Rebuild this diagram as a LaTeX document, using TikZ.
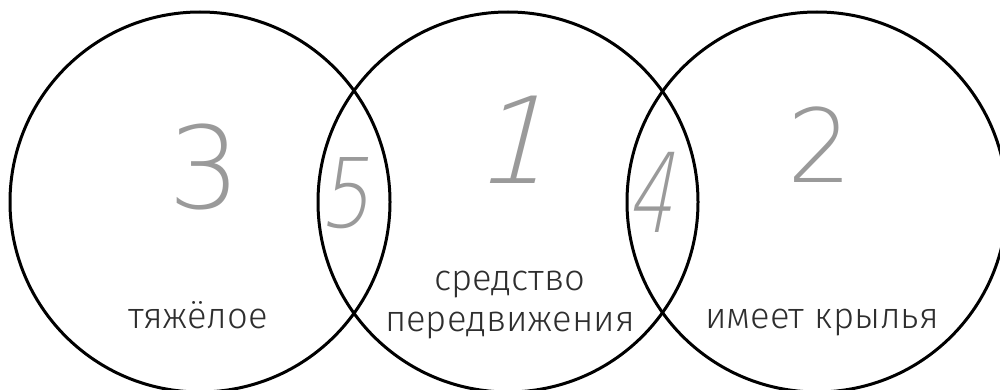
\documentclass[tikz,border=0pt]{standalone}
\usepackage{fontspec}
\setmainfont{Fira Sans}
\IfFontExistsTF{Fira Sans Light}{\newfontfamily\labelfont{Fira Sans Light}}{%
  \IfFontExistsTF{Open Sans Light}{\newfontfamily\labelfont{Open Sans Light}}{\newfontfamily\labelfont{Fira Sans}}}
\IfFontExistsTF{DejaVu Sans ExtraLight}{\newfontfamily\digitfont{DejaVu Sans ExtraLight}}{%
  \IfFontExistsTF{Fira Sans Thin}{\newfontfamily\digitfont{Fira Sans Thin}}{\newfontfamily\digitfont{Fira Sans}}}
\definecolor{labelgray}{HTML}{2E2E2E}
\definecolor{digitgray}{HTML}{9A9A9A}
\begin{document}
\begin{tikzpicture}[x=0.5pt,y=-0.5pt,
  setcircle/.style={circle, draw=black, line width=1.5pt, minimum size=190pt, inner sep=0pt},
  setlabel/.style={anchor=base, inner sep=0pt, text=labelgray, font=\labelfont\fontsize{18.2pt}{21pt}\selectfont},
  digit/.style={inner sep=0pt, text=digitgray},
]
\useasboundingbox (0,0) rectangle (1000,390);
\clip (0,0) rectangle (1000,390);
\fill[white] (0,0) rectangle (1000,390);
\node[setcircle] (left) at (200,202) {};
\node[setcircle] (mid) at (508,202) {};
\node[setcircle] (right) at (817,202) {};
\node[digit, font=\digitfont\fontsize{57pt}{57pt}\selectfont] (d3) at (205,167) {3};
\node[digit, font=\digitfont\fontsize{48pt}{48pt}\selectfont, xslant=0.15, xscale=0.85] (d5) at (351,193) {5};
\node[digit, font=\digitfont\fontsize{60pt}{60pt}\selectfont, xslant=0.25] (d1) at (522,140) {1};
\node[digit, font=\digitfont\fontsize{55pt}{55pt}\selectfont, xslant=0.2, xscale=0.65] (d4) at (657,192) {4};
\node[digit, font=\digitfont\fontsize{51pt}{51pt}\selectfont] (d2) at (820,145) {2};
\node[setlabel] (heavy) at (198,328) {тяжёлое};
\node[setlabel] (means1) at (510,290) {средство};
\node[setlabel] (means2) at (510,331) {передвижения};
\node[setlabel] (wings) at (822,328) {имеет крылья};
\end{tikzpicture}
\end{document}
